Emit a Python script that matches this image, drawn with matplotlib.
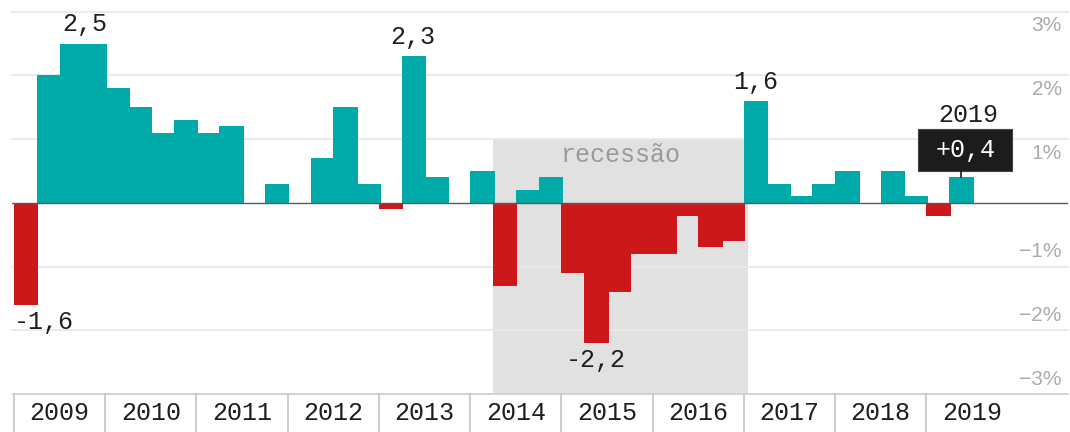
import matplotlib.pyplot as plt
from matplotlib.patches import Rectangle
from matplotlib.transforms import blended_transform_factory

# quarterly GDP change (%), 2009 Q1 -> 2019 Q2
years = list(range(2009, 2020))
growth = [-1.6, 2.0, 2.5, 2.5,
          1.8, 1.5, 1.1, 1.3,
          1.1, 1.2, 0.0, 0.3,
          0.0, 0.7, 1.5, 0.3,
          -0.1, 2.3, 0.4, 0.0,
          0.5, -1.3, 0.2, 0.4,
          -1.1, -2.2, -1.4, -0.8,
          -0.8, -0.2, -0.7, -0.6,
          1.6, 0.3, 0.1, 0.3,
          0.5, 0.0, 0.5, 0.1,
          -0.2, 0.4]
ytick_values = [3, 2, 1, -1, -2, -3]
ytick_labels = ['3%', '2%', '1%', '\u22121%', '\u22122%', '\u22123%']
highlight_idx = [0, 2, 17, 25, 32]
recession = (21, 32.17)
recession_label = 'recessão'
last_label = '2019'

TEAL = '#00aaa8'
RED = '#cc181b'
MONO = 'Liberation Mono'

fig = plt.figure(figsize=(10.7, 4.32), dpi=100)
ax = fig.add_axes([12 / 1070, 38 / 432, 1056 / 1070, 382.3 / 432])
ax.set_xlim(-0.088, 46.21)
ax.set_ylim(-3, 3)
ax.axis('off')

q = list(range(len(growth)))
colors = [TEAL if v >= 0 else RED for v in growth]
ax.bar(q, growth, width=1.07, align='edge', color=colors, linewidth=0, zorder=3)

# recession shading
ax.fill_between(recession, -3, 1, color='#e1e1e1', lw=0, zorder=0)
ax.text(sum(recession) / 2, 0.75, recession_label, family=MONO, fontsize=18,
        color='#9a9a9a', ha='center', va='center', zorder=2)

# grid
for v in ytick_values:
    ax.axhline(v, color='#e8e8e8', lw=1.3, zorder=1, clip_on=False)
ax.axhline(0, color='#5a5a5a', lw=1, zorder=4)

for v, lab in zip(ytick_values, ytick_labels):
    off = -0.22 if v > 0 else 0.23
    ax.text(0.994, v + off, lab, transform=blended_transform_factory(ax.transAxes, ax.transData),
            ha='right', va='center', fontsize=15, color='#ababab', family='Liberation Sans')

# value labels
for i in highlight_idx:
    v = growth[i]
    txt = f'{v:.1f}'.replace('.', ',')
    x = i + 0.5
    ha = 'center'
    if i + 1 < len(growth) and growth[i + 1] == v:
        x = i + 1.1
    if i == 0:
        x, ha = i, 'left'
    y = v + 0.3 if v > 0 else v - 0.27
    ax.text(x, y, txt, family=MONO, fontsize=18, color='#1e1e1e', ha=ha, va='center', zorder=6)

# last quarter callout
last = len(growth) - 1
lv = growth[last]
ax.add_patch(Rectangle((last - 1.37, 0.5), 4.12, 0.66, facecolor='#1c1c1c',
                       edgecolor='#444444', lw=0.8, zorder=5))
ax.plot([last + 0.5, last + 0.5], [lv, 0.5], color='#1c1c1c', lw=1.2, zorder=5)
ax.text(last + 0.74, 0.83, f'+{lv:.1f}'.replace('.', ','), family=MONO, fontsize=18,
        color='white', ha='center', va='center', zorder=6)
ax.text(last + 0.85, 1.38, last_label, family=MONO, fontsize=18, color='#1e1e1e',
        ha='center', va='center', zorder=6)

# year band below
tr = blended_transform_factory(ax.transData, ax.transAxes)
ax.plot([0, 46.21], [-3, -3], color='#cfcfcf', lw=1.2, clip_on=False, zorder=2)
for k, yr in enumerate(years):
    ax.plot([4 * k, 4 * k], [0, -0.1], color='#c4c4c4', lw=1.2, transform=tr, clip_on=False)
    ax.text(4 * k + 2, -0.05, str(yr), family=MONO, fontsize=18, color='#1e1e1e',
            ha='center', va='center', transform=tr)

fig.savefig('out.png', dpi=100)
